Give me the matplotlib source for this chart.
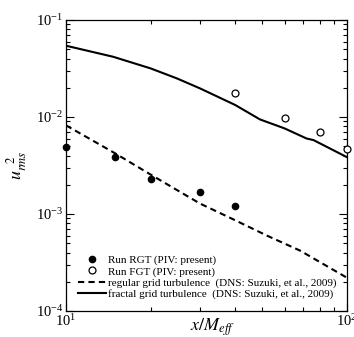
import matplotlib
matplotlib.use("Agg")
import matplotlib.pyplot as plt
from matplotlib.ticker import LogLocator, NullFormatter

plt.rcParams['font.family'] = ['Liberation Serif', 'DejaVu Serif']
plt.rcParams['mathtext.fontset'] = 'stix'

# Data
rgt_x = [10, 15, 20, 30, 40]
rgt_y = [4.9e-3, 3.9e-3, 2.27e-3, 1.67e-3, 1.22e-3]

fgt_x = [40, 60, 80, 100]
fgt_y = [0.0177, 0.0098, 0.0070, 0.00467]

dns_reg_x = [10, 15, 20, 30, 39.4, 51.8, 68, 80, 100]
dns_reg_y = [8.2e-3, 4.2e-3, 2.55e-3, 1.28e-3, 8.8e-4, 6.0e-4, 4.2e-4, 3.2e-4, 2.2e-4]

dns_frac_x = [10, 14.7, 20, 24.8, 30, 40, 49, 60, 71.8, 76, 100]
dns_frac_y = [0.0543, 0.0418, 0.0317, 0.025, 0.0197, 0.0133, 0.00944, 0.00762, 0.0060, 0.00578, 0.00385]

labels = ['Run RGT (PIV: present)', 'Run FGT (PIV: present)',
          'regular grid turbulence  (DNS: Suzuki, et al., 2009)',
          'fractal grid turbulence  (DNS: Suzuki, et al., 2009)']

fig = plt.figure(figsize=(3.54, 3.37), dpi=100)
ax = fig.add_axes([0.1864, 0.0772, 0.7938, 0.8635])

ax.plot(rgt_x, rgt_y, 'o', color='black', markersize=4.5, clip_on=False, label=labels[0], zorder=4)
ax.plot(fgt_x, fgt_y, 'o', markerfacecolor='white', markeredgecolor='black', markersize=5,
        markeredgewidth=0.9, clip_on=False, label=labels[1], zorder=4)
ax.plot(dns_reg_x, dns_reg_y, '--', color='black', linewidth=1.5, dashes=(3, 2), label=labels[2])
ax.plot(dns_frac_x, dns_frac_y, '-', color='black', linewidth=1.5, label=labels[3])

ax.set_xscale('log')
ax.set_yscale('log')
ax.set_xlim(10, 100)
ax.set_ylim(1e-4, 1e-1)

ax.xaxis.set_major_locator(LogLocator(base=10, numticks=10))
ax.xaxis.set_minor_locator(LogLocator(base=10, subs=range(2, 10), numticks=20))
ax.yaxis.set_minor_locator(LogLocator(base=10, subs=range(2, 10), numticks=20))
ax.xaxis.set_minor_formatter(NullFormatter())
ax.yaxis.set_minor_formatter(NullFormatter())

ax.tick_params(which='both', direction='in', top=True, right=True, labelsize=10.5, width=0.8)
ax.tick_params(which='major', length=6)
ax.tick_params(which='minor', length=3)
ax.tick_params(axis='x', pad=1.5)
ax.tick_params(axis='y', pad=2)
for s in ax.spines.values():
    s.set_linewidth(0.9)

ax.set_xlabel(r'$x/M_{eff}$', fontsize=13)
ax.xaxis.set_label_coords(0.52, -0.02)
ax.set_ylabel(r'$u_{rms}^{\ \ 2}$', fontsize=13)
ax.yaxis.set_label_coords(-0.13, 0.5)

leg = ax.legend(loc='lower left', frameon=False, fontsize=8, handlelength=2.5,
                handletextpad=0.2, labelspacing=0.1, borderaxespad=0.3,
                bbox_to_anchor=(0.015, 0.015))

fig.savefig('out.png', dpi=100)
